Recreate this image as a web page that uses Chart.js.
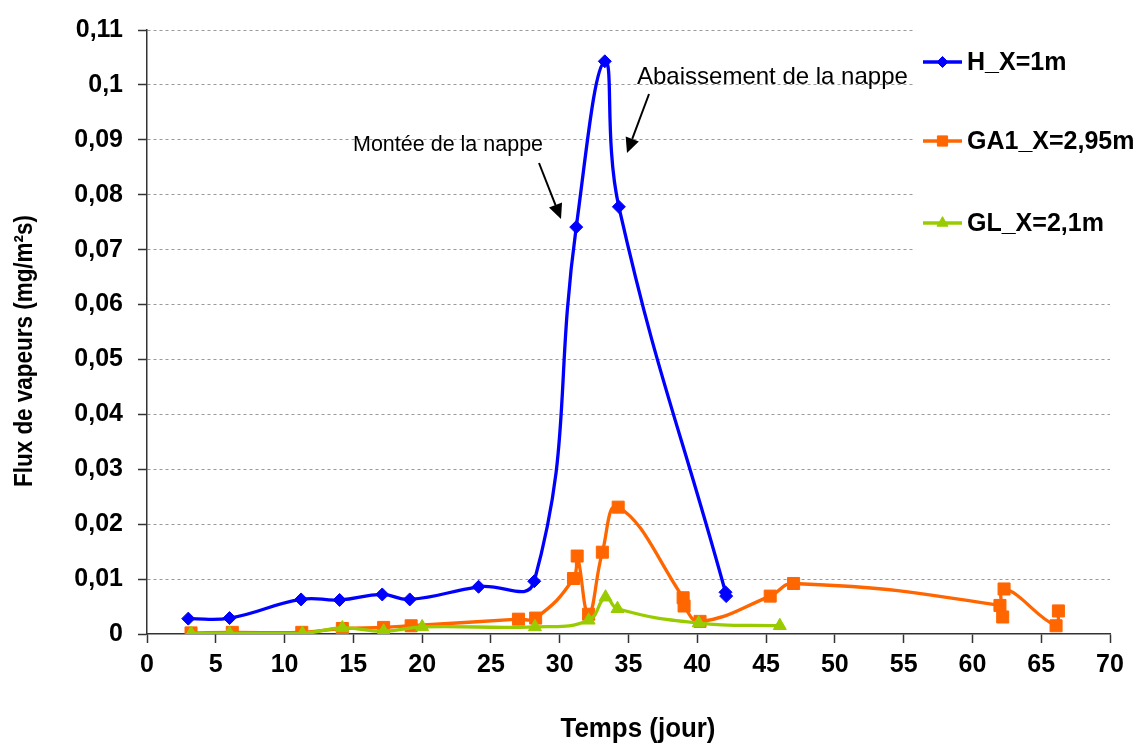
<!DOCTYPE html>
<html><head><meta charset="utf-8">
<script src="https://cdn.jsdelivr.net/npm/chart.js@4.4.0/dist/chart.umd.min.js"></script>
<style>html,body{margin:0;padding:0;background:#fff;}#wrap{width:1141px;height:744px;position:relative;}</style>
</head><body><div id="wrap"><canvas id="c" width="1141" height="744"></canvas></div>
<script>
// ---- data ----
const seriesNames = ['H_X=1m', 'GA1_X=2,95m', 'GL_X=2,1m'];
const hDays  = [3, 6, 11.2, 14, 17.1, 19.1, 24.1, 28.15, 31.2, 33.28, 34.3, 42.05, 42.1];
const hFlux  = [0.0028, 0.0029, 0.0063, 0.0062, 0.0072, 0.0063, 0.0086, 0.0096, 0.0741, 0.1043, 0.0778, 0.0076, 0.0069];
const gaDays = [3.2, 6.2, 11.25, 14.2, 17.2, 19.2, 27.0, 28.25, 31.0, 31.27, 32.1, 33.1, 34.25, 38.97, 39.04, 40.2, 45.3, 47.0, 62.0, 62.2, 62.3, 66.08, 66.25];
const gaFlux = [0.0002, 0.0003, 0.0003, 0.0010, 0.0012, 0.0015, 0.0027, 0.0029, 0.0101, 0.0142, 0.0036, 0.0149, 0.0231, 0.0066, 0.0051, 0.0023, 0.0069, 0.0092, 0.0052, 0.0031, 0.0082, 0.0015, 0.0042];
const glDays = [3.2, 6.0, 11.3, 14.2, 17.2, 20.0, 28.2, 32.1, 33.33, 34.2, 40.1, 46.0];
const glFlux = [0.0001, 0.0001, 0.0001, 0.0011, 0.0005, 0.0013, 0.0013, 0.0025, 0.0067, 0.0046, 0.0020, 0.0015];
const xTickLabels = ['0','5','10','15','20','25','30','35','40','45','50','55','60','65','70'];
const yTickLabels = ['0','0,01','0,02','0,03','0,04','0,05','0,06','0,07','0,08','0,09','0,1','0,11'];
const xTitle = 'Temps (jour)';
const yTitle = 'Flux de vapeurs (mg/m²s)';
const notes = ['Montée de la nappe', 'Abaissement de la nappe'];

// ---- styles ----
const colors = ['#0000FF', '#FF6600', '#99CC00'];
const styles = ['rectRot', 'rect', 'triangle'];
const radii = [6.5, 8.5, 7.5];
const tickFont = {family: '"Liberation Sans", Arial, sans-serif', size: 25, weight: 'bold'};

function pts(xs, ys) { return xs.map((x, i) => ({x: x, y: ys[i]})); }
const allDays = [hDays, gaDays, glDays];
const allFlux = [hFlux, gaFlux, glFlux];

const datasets = seriesNames.map((n, i) => ({
  label: n,
  data: pts(allDays[i], allFlux[i]),
  borderColor: colors[i],
  backgroundColor: colors[i],
  pointBackgroundColor: colors[i],
  pointBorderColor: colors[i],
  pointStyle: styles[i],
  pointRadius: radii[i],
  pointBorderWidth: 1,
  borderWidth: 3.3,
  tension: 0.45,
  fill: false,
  order: 3 - i
}));

function arrow(ctx, x1, y1, x2, y2) {
  const a = Math.atan2(y2 - y1, x2 - x1);
  const hl = 15, hw = 7;
  const bx = x2 - hl * Math.cos(a), by = y2 - hl * Math.sin(a);
  ctx.save();
  ctx.strokeStyle = '#000'; ctx.fillStyle = '#000'; ctx.lineWidth = 2;
  ctx.beginPath(); ctx.moveTo(x1, y1); ctx.lineTo(bx, by); ctx.stroke();
  ctx.beginPath();
  ctx.moveTo(x2, y2);
  ctx.lineTo(bx + hw * Math.sin(a), by - hw * Math.cos(a));
  ctx.lineTo(bx - hw * Math.sin(a), by + hw * Math.cos(a));
  ctx.closePath(); ctx.fill();
  ctx.restore();
}

// condensed title text, fitted to the target length
function condensedText(ctx, text, cx, cy, rot, size, targetLen) {
  ctx.save();
  ctx.font = 'bold ' + size + 'px "Liberation Sans", Arial, sans-serif';
  const w = ctx.measureText(text).width;
  ctx.translate(cx, cy);
  ctx.rotate(rot);
  ctx.scale(targetLen / w, 1);
  ctx.fillStyle = '#000';
  ctx.textAlign = 'center';
  ctx.textBaseline = 'middle';
  ctx.fillText(text, 0, 0);
  ctx.restore();
}

const decor = {
  id: 'decor',
  beforeDatasetsDraw(chart) {
    const ctx = chart.ctx;
    ctx.save(); ctx.fillStyle = '#fff';
    ctx.fillRect(913, 0, 228, 268);
    ctx.restore();
  },
  afterDraw(chart) {
    const ctx = chart.ctx;
    // legend
    const ys = [62, 141, 223];
    ctx.save();
    seriesNames.forEach((n, i) => {
      ctx.strokeStyle = colors[i]; ctx.lineWidth = 3.3;
      ctx.beginPath(); ctx.moveTo(923, ys[i]); ctx.lineTo(962, ys[i]); ctx.stroke();
      ctx.fillStyle = colors[i]; ctx.lineWidth = 1;
      Chart.helpers.drawPoint(ctx, {pointStyle: styles[i], radius: radii[i] * 0.85, rotation: 0, borderWidth: 1}, 942.5, ys[i]);
      ctx.fillStyle = '#000';
      ctx.font = 'bold 25px "Liberation Sans", Arial, sans-serif';
      ctx.textBaseline = 'middle'; ctx.textAlign = 'left';
      ctx.fillText(n, 967, ys[i] + 1);
    });
    // annotations
    ctx.fillStyle = '#000'; ctx.textBaseline = 'alphabetic';
    ctx.font = '21.5px "Liberation Sans", Arial, sans-serif';
    ctx.fillText(notes[0], 353, 151);
    ctx.font = '24px "Liberation Sans", Arial, sans-serif';
    ctx.fillText(notes[1], 637, 84);
    ctx.restore();
    arrow(ctx, 539, 163, 561, 219);
    arrow(ctx, 649, 94, 627, 153);
    // axis titles
    condensedText(ctx, yTitle, 25, 351, -Math.PI / 2, 26, 272);
    condensedText(ctx, xTitle, 638, 730, 0, 27, 155);
  }
};

new Chart(document.getElementById('c'), {
  type: 'line',
  data: {datasets: datasets},
  options: {
    responsive: false,
    animation: false,
    layout: {padding: {top: 25, right: 31, left: 0, bottom: 0}},
    plugins: {legend: {display: false}, tooltip: {enabled: false}},
    scales: {
      x: {
        type: 'linear', min: 0, max: 70,
        ticks: {stepSize: 5, color: '#000', font: tickFont, padding: 7, maxRotation: 0, autoSkip: false,
                callback: (v, i) => xTickLabels[i]},
        grid: {drawOnChartArea: false, tickLength: 9, tickColor: '#333', tickWidth: 1.5},
        border: {color: '#333', width: 1.5},
        afterFit(s) { s.height = 110; }
      },
      y: {
        min: 0, max: 0.11,
        ticks: {stepSize: 0.01, color: '#000', font: tickFont, padding: 15,
                callback: (v, i) => yTickLabels[i]},
        grid: {color: c => (c.tick && c.tick.value === 0) ? 'rgba(0,0,0,0)' : '#9a9a9a', lineWidth: 1,
               tickLength: 9, tickColor: '#333', tickWidth: 1.5, tickBorderDash: []},
        border: {color: '#333', width: 1.5, dash: [3, 3]},
        afterFit(s) { s.width = 147; }
      }
    }
  },
  plugins: [decor]
});
</script>
</body></html>
